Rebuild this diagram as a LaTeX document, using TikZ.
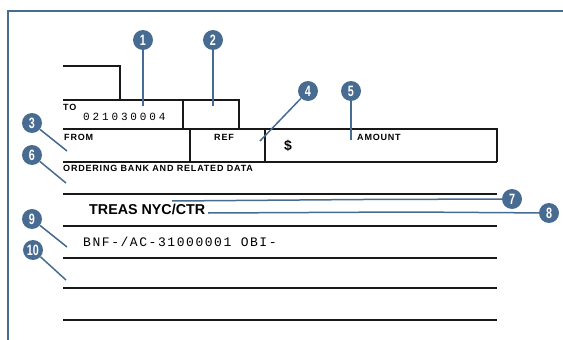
\documentclass[tikz,border=0pt]{standalone}
\usepackage{fontspec}
\setmainfont{Liberation Sans}
\newfontfamily\lbl[LetterSpace=9]{Liberation Sans}
\newfontfamily\tyA[LetterSpace=26]{Liberation Mono}
\newfontfamily\tyB[LetterSpace=12]{Liberation Mono}
\definecolor{callblue}{RGB}{72,107,145}
\tikzset{
  formline/.style={line width=1.8pt, black!90},
  frameline/.style={line width=2pt, callblue},
  callout/.style={circle, fill=callblue, minimum size=20pt, inner sep=0pt,
    text=white, font=\fontsize{15}{15}\selectfont\bfseries},
  leader/.style={line width=1.5pt, callblue},
  smalllbl/.style={anchor=base west, inner sep=0pt, font=\lbl\fontsize{9}{9}\selectfont\bfseries},
}
\newcommand{\cnum}[1]{\scalebox{0.72}[1]{#1}}
\begin{document}
\begin{tikzpicture}[x=1pt,y=-1pt]
\useasboundingbox (0,0) rectangle (563,340);
% frame
\draw[frameline] (8,340) -- (8,11) -- (563,11);
% form lines
\draw[formline] (63,66) -- (120,66) -- (120,100);
\draw[formline] (63,100) -- (239,100) -- (239,129);
\draw[formline] (183,100) -- (183,129);
\draw[formline] (63,129) -- (497,129) -- (497,162);
\draw[formline] (190,129) -- (190,162);
\draw[formline] (265,129) -- (265,162);
\draw[formline] (63,162) -- (497,162);
\draw[formline] (63,194) -- (497,194);
\draw[formline] (63,226) -- (497,226);
\draw[formline] (63,258) -- (497,258);
\draw[formline] (63,288) -- (497,288);
\draw[formline] (63,320) -- (497,320);
% texts
\node[smalllbl] (to) at (63,110) {TO};
\node[anchor=base west, inner sep=0pt, font=\tyA\fontsize{11}{11}\selectfont] (aba) at (83,120) {021030004};
\node[smalllbl] (from) at (64,140) {FROM};
\node[smalllbl] (ref) at (214,140) {REF};
\node[anchor=base west, inner sep=0pt, font=\fontsize{14}{14}\selectfont\bfseries] (dol) at (284,150.5) {\$};
\node[smalllbl] (amt) at (357,140) {AMOUNT};
\node[smalllbl] (obd) at (63,171.5) {ORDERING BANK AND RELATED DATA};
\node[anchor=base west, inner sep=0pt, font=\fontsize{14.3}{14}\selectfont\bfseries] (treas) at (89,214) {TREAS NYC/CTR};
\node[anchor=base west, inner sep=0pt, font=\tyB\fontsize{13}{13}\selectfont] (bnf) at (83,246.5) {BNF-/AC-31000001 OBI-};
% callouts
\node[callout] (c1) at (143,40) {\cnum{1}};
\node[callout] (c2) at (213,40) {\cnum{2}};
\node[callout] (c3) at (32,123) {\cnum{3}};
\node[callout] (c4) at (308,91) {\cnum{4}};
\node[callout] (c5) at (351,91) {\cnum{5}};
\node[callout] (c6) at (32,155) {\cnum{6}};
\node[callout] (c7) at (512,199) {\cnum{7}};
\node[callout] (c8) at (549,213) {\cnum{8}};
\node[callout] (c9) at (32,219) {\cnum{9}};
\node[callout] (c10) at (33,250) {\cnum{10}};
% leader end points
\coordinate (p1) at (143,106);
\coordinate (p2) at (213,106);
\coordinate (p3) at (67,151);
\coordinate (p4) at (260,141);
\coordinate (p5) at (351,140);
\coordinate (p6) at (66,183);
\coordinate (k7) at (363,199.5);
\coordinate (p7) at (172,201);
\coordinate (k8) at (409,212);
\coordinate (p8) at (208,213);
\coordinate (p9) at (67,247);
\coordinate (p10) at (66,280);
\draw[leader] (c1) -- (p1);
\draw[leader] (c2) -- (p2);
\draw[leader] (c3) -- (p3);
\draw[leader] (c4) -- (p4);
\draw[leader] (c5) -- (p5);
\draw[leader] (c6) -- (p6);
\draw[leader] (c7) -- (k7) -- (p7);
\draw[leader] (c8) -- (k8) -- (p8);
\draw[leader] (c9) -- (p9);
\draw[leader] (c10) -- (p10);
\end{tikzpicture}
\end{document}
